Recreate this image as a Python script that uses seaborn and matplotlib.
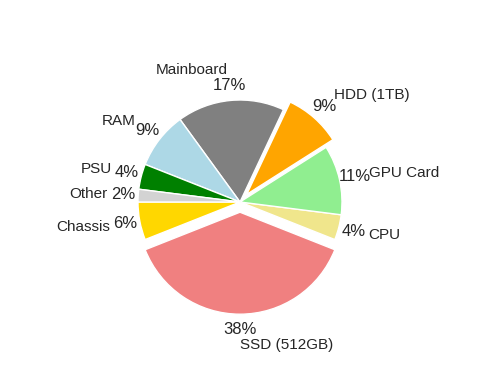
import matplotlib
matplotlib.use("Agg")
import matplotlib.pyplot as plt
import seaborn as sns

# component share of the build cost (%)
components = ["Chassis", "SSD (512GB)", "CPU", "GPU Card", "HDD (1TB)",
              "Mainboard", "RAM", "PSU", "Other"]
shares = [6, 38, 4, 11, 9, 17, 9, 4, 2]
explode = [0, 0.1, 0, 0, 0.1, 0, 0, 0, 0]
slice_colors = ["gold", "lightcoral", "khaki", "lightgreen", "orange",
                "gray", "lightblue", "green", "lightgray"]

sns.set_theme(style="white")
plt.rcParams["font.family"] = ["Liberation Sans", "DejaVu Sans"]

fig = plt.figure(figsize=(4.84, 3.74), dpi=100)
ax = fig.add_axes([0.2324, 0.119, 0.5269, 0.6818])

wedges, texts, autotexts = ax.pie(
    shares,
    labels=components,
    explode=explode,
    colors=sns.color_palette(slice_colors),
    autopct="%1.0f%%",
    startangle=180,
    pctdistance=1.15,
    labeldistance=1.3,
    wedgeprops={"edgecolor": "white", "linewidth": 1},
    textprops={"fontsize": 11},
)
for t in autotexts:
    t.set_fontsize(12)
ax.set_aspect("equal")

fig.savefig("out.png", dpi=100)
plt.close(fig)
